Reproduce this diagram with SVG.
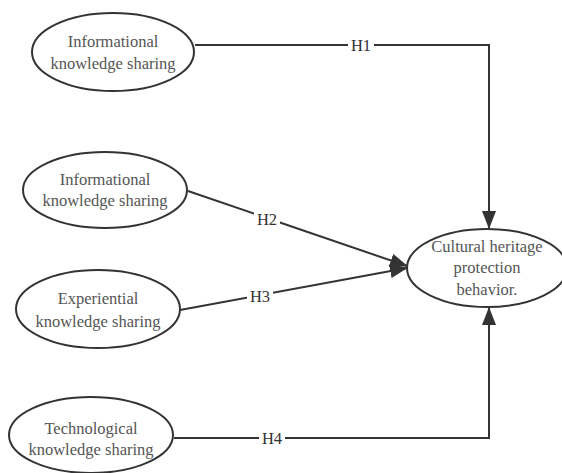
<svg xmlns="http://www.w3.org/2000/svg" width="562" height="473" viewBox="0 0 562 473">
<style>
.node ellipse{fill:#fff;stroke:#333;stroke-width:2}
.node text{font-family:"Liberation Serif","DejaVu Serif","Noto Serif",serif;font-size:16.5px;fill:#555;text-anchor:middle}
.edge{fill:none;stroke:#333;stroke-width:2}
.lbl{font-family:"Liberation Serif","DejaVu Serif","Noto Serif",serif;font-size:16.5px;fill:#333;text-anchor:middle}
.lblbg{fill:#fff}
</style>
<defs>
<marker id="arr" viewBox="0 0 18 14" refX="17" refY="7" markerWidth="18" markerHeight="14" markerUnits="userSpaceOnUse" orient="auto">
<path d="M0,0 L18,7 L0,14 Z" fill="#333"/>
</marker>
</defs>
<rect width="562" height="473" fill="#fff"/>
<g id="connectors">
<path class="edge" d="M195,45 H489 V228" marker-end="url(#arr)"/>
<path class="edge" d="M188,191 L407,266" marker-end="url(#arr)"/>
<path class="edge" d="M180,310 L407,268" marker-end="url(#arr)"/>
<path class="edge" d="M174,438 H489 V308" marker-end="url(#arr)"/>
<rect class="lblbg" x="348" y="37" width="26" height="16"/>
<text class="lbl" x="361" y="51">H1</text>
<rect class="lblbg" x="254" y="211" width="26" height="16"/>
<text class="lbl" x="267" y="225">H2</text>
<rect class="lblbg" x="247" y="288" width="26" height="16"/>
<text class="lbl" x="260" y="302">H3</text>
<rect class="lblbg" x="259" y="430" width="26" height="16"/>
<text class="lbl" x="272" y="444">H4</text>
</g>
<g id="n1" class="node">
<ellipse cx="113" cy="52" rx="81" ry="39"/>
<text x="113" y="47">Informational</text>
<text x="113" y="69">knowledge sharing</text>
</g>
<g id="n2" class="node">
<ellipse cx="105" cy="190" rx="82" ry="38"/>
<text x="105" y="185">Informational</text>
<text x="105" y="206">knowledge sharing</text>
</g>
<g id="n3" class="node">
<ellipse cx="98" cy="309" rx="82" ry="39"/>
<text x="98" y="304">Experiential</text>
<text x="98" y="327">knowledge sharing</text>
</g>
<g id="n4" class="node">
<ellipse cx="91" cy="435" rx="82" ry="38"/>
<text x="91" y="434">Technological</text>
<text x="91" y="455">knowledge sharing</text>
</g>
<g id="target" class="node">
<ellipse cx="487" cy="268" rx="80" ry="39"/>
<text x="487" y="252">Cultural heritage</text>
<text x="487" y="273">protection</text>
<text x="487" y="295">behavior.</text>
</g>
</svg>
